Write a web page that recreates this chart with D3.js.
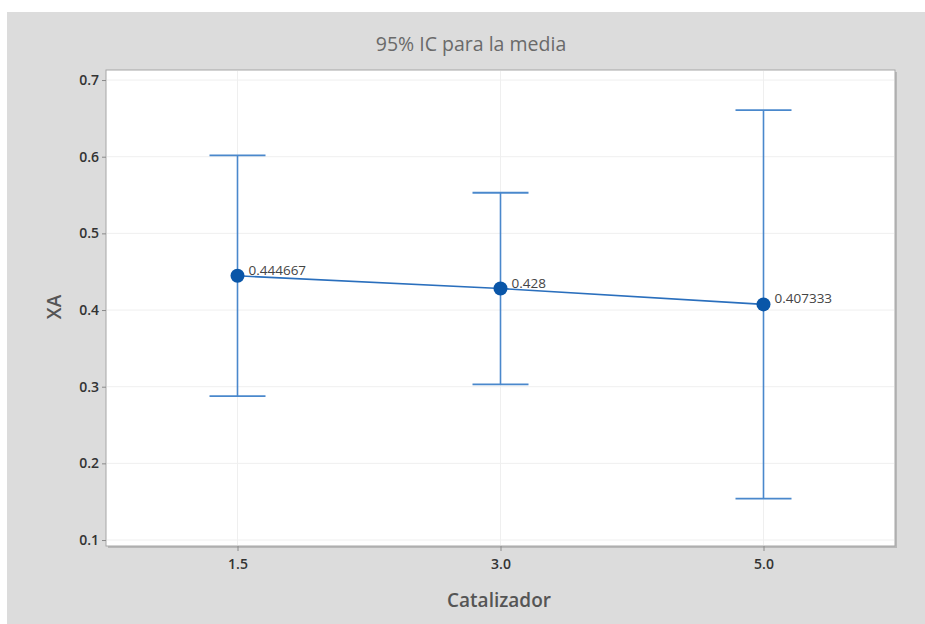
<!DOCTYPE html>
<html>
<head>
<meta charset="utf-8">
<script src="https://cdn.jsdelivr.net/npm/d3@7"></script>
<style>
  html, body { margin: 0; padding: 0; background: #ffffff; }
  svg { display: block; }
  text { font-family: "Open Sans", "Noto Sans", sans-serif; }
</style>
</head>
<body>
<svg id="chart" width="925" height="624"></svg>
<script>
// Catalyst levels and XA means with 95% confidence limits
const categories = ["1.5", "3.0", "5.0"];
const means = [0.444667, 0.428, 0.407333];
const lower = [0.2876, 0.3030, 0.1540];
const upper = [0.6017, 0.5530, 0.6607];
const meanLabels = ["0.444667", "0.428", "0.407333"];
const yTicks = [0.1, 0.2, 0.3, 0.4, 0.5, 0.6, 0.7];

const svg = d3.select("#chart");
const W = 925, H = 624;

// outer gray panel
svg.append("rect").attr("x", 7).attr("y", 12).attr("width", W - 7).attr("height", H - 12)
  .attr("fill", "#dcdcdc");

const plot = { left: 106, top: 70, right: 895, bottom: 546 };

const x = d3.scalePoint().domain(categories)
  .range([plot.left, plot.right]).padding(0.5);
const y = d3.scaleLinear().domain([0.0922, 0.7131])
  .range([plot.bottom, plot.top]);

// plot area with a soft shadow on right/bottom
svg.append("rect")
  .attr("x", plot.left + 2).attr("y", plot.top + 2)
  .attr("width", plot.right - plot.left).attr("height", plot.bottom - plot.top)
  .attr("fill", "#b8b8b8");
svg.append("rect")
  .attr("x", plot.left).attr("y", plot.top)
  .attr("width", plot.right - plot.left).attr("height", plot.bottom - plot.top)
  .attr("fill", "#ffffff").attr("stroke", "#a6a6a6").attr("stroke-width", 1);

// gridlines
const grid = svg.append("g");
grid.selectAll("line.h").data(yTicks).join("line")
  .attr("x1", plot.left + 1).attr("x2", plot.right - 1)
  .attr("y1", d => y(d)).attr("y2", d => y(d))
  .attr("stroke", "#efefef").attr("stroke-width", 1);
grid.selectAll("line.v").data(categories).join("line")
  .attr("x1", d => x(d)).attr("x2", d => x(d))
  .attr("y1", plot.top + 1).attr("y2", plot.bottom - 1)
  .attr("stroke", "#efefef").attr("stroke-width", 1);

// axes
const yAxis = d3.axisLeft(y).tickValues(yTicks).tickFormat(d3.format(".1f")).tickSize(4).tickPadding(3);
const gy = svg.append("g").attr("transform", `translate(${plot.left},0)`).call(yAxis);
gy.select(".domain").remove();
gy.selectAll(".tick line").attr("stroke", "#8a8a8a");
gy.selectAll(".tick text").attr("fill", "#333").style("font-size", "14px").style("font-weight", "600");

const xAxis = d3.axisBottom(x).tickSize(5).tickPadding(8);
const gx = svg.append("g").attr("transform", `translate(0,${plot.bottom})`).call(xAxis);
gx.select(".domain").remove();
gx.selectAll(".tick line").attr("stroke", "#8a8a8a");
gx.selectAll(".tick text").attr("fill", "#333").style("font-size", "14px").style("font-weight", "600");

// error bars
const data = categories.map((c, i) => ({ c, m: means[i], lo: lower[i], hi: upper[i], label: meanLabels[i] }));
const barColor = "#4a88cc";
const capHalf = 28;
const eb = svg.append("g");
eb.selectAll("line.stem").data(data).join("line")
  .attr("x1", d => x(d.c)).attr("x2", d => x(d.c))
  .attr("y1", d => y(d.hi)).attr("y2", d => y(d.lo))
  .attr("stroke", barColor).attr("stroke-width", 1.6);
eb.selectAll("line.capTop").data(data).join("line")
  .attr("x1", d => x(d.c) - capHalf).attr("x2", d => x(d.c) + capHalf)
  .attr("y1", d => y(d.hi)).attr("y2", d => y(d.hi))
  .attr("stroke", barColor).attr("stroke-width", 1.8);
eb.selectAll("line.capBot").data(data).join("line")
  .attr("x1", d => x(d.c) - capHalf).attr("x2", d => x(d.c) + capHalf)
  .attr("y1", d => y(d.lo)).attr("y2", d => y(d.lo))
  .attr("stroke", barColor).attr("stroke-width", 1.8);

// connecting line through the means
svg.append("path").datum(data)
  .attr("d", d3.line().x(d => x(d.c)).y(d => y(d.m)))
  .attr("fill", "none").attr("stroke", "#2a6fbd").attr("stroke-width", 1.6);

// mean markers
svg.selectAll("circle.mean").data(data).join("circle")
  .attr("cx", d => x(d.c)).attr("cy", d => y(d.m)).attr("r", 7)
  .attr("fill", "#0a56a8");

// mean value labels
svg.selectAll("text.lbl").data(data).join("text")
  .attr("x", d => x(d.c) + 11).attr("y", d => y(d.m) - 1)
  .attr("fill", "#444").style("font-size", "13.5px")
  .text(d => d.label);

// title and axis titles
svg.append("text").attr("x", 471).attr("y", 51).attr("text-anchor", "middle")
  .attr("fill", "#6a6a6a").style("font-size", "19.5px").text("95% IC para la media");
svg.append("text").attr("x", 499).attr("y", 607).attr("text-anchor", "middle")
  .attr("fill", "#555").style("font-size", "19px").style("font-weight", "600").text("Catalizador");
svg.append("text").attr("transform", "translate(61,307) rotate(-90)").attr("text-anchor", "middle")
  .attr("fill", "#555").style("font-size", "19px").style("font-weight", "600").text("XA");
</script>
</body>
</html>
